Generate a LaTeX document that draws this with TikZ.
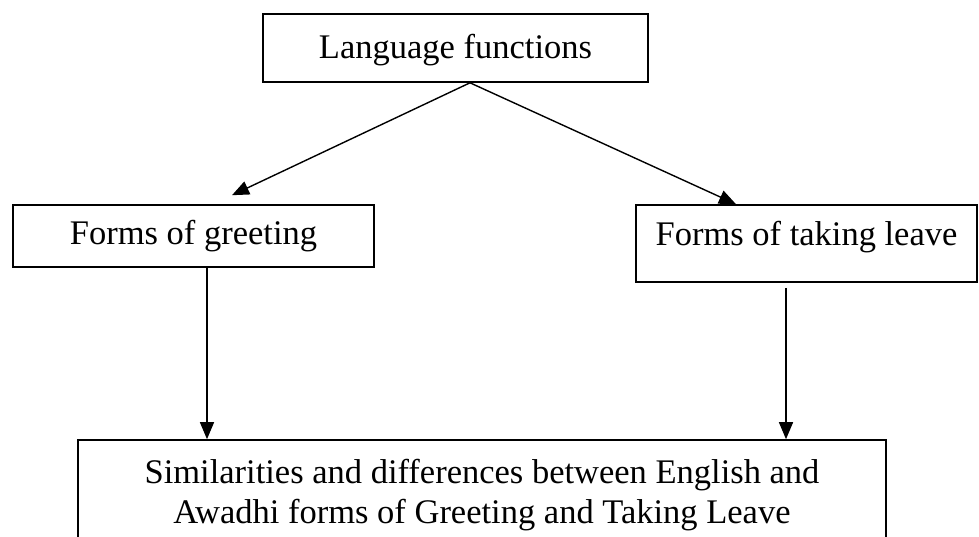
\documentclass[tikz,border=0pt]{standalone}
\usepackage{fontspec}
\setmainfont{Liberation Serif}
\usepackage{tikz}
\usetikzlibrary{arrows.meta}
\newcommand{\boxfont}{\fontsize{34.5pt}{40pt}\selectfont}

\begin{document}
\begin{tikzpicture}[x=1pt,y=-1pt]
						\useasboundingbox (0,0) rectangle (979,537);
						\begin{scope}[every node/.style={rectangle,draw,line width=1.6pt,inner sep=0pt,align=center,font=\boxfont}]
								\node[minimum width=385pt,minimum height=68pt,text depth=3pt] (LF) at (455.5,48) {Language functions};
								\node[minimum width=361pt,minimum height=62pt] (FG) at (193.5,236) {Forms of greeting};
								\node[minimum width=341pt,minimum height=77pt,text depth=20.6pt] (FT) at (806.5,243.5) {Forms of taking leave};
								\node[minimum width=808pt,minimum height=110pt] (SD) at (482,495) {Similarities and differences between English and\\Awadhi forms of Greeting and Taking Leave};
						\end{scope}
						\begin{scope}[>={Triangle[length=17pt,width=14pt]},
								every edge/.style={draw,->,line width=1.4pt}]
								\path ([xshift=14.5pt]LF.south) edge ([xshift=38.5pt,yshift=9pt]FG.north);
								\path ([xshift=14.5pt]LF.south) edge ([xshift=-70.5pt]FT.north);
								\path ([xshift=13.5pt]FG.south) edge ([xshift=13.5pt]FG.south |- SD.north);
								\path ([xshift=-20.5pt,yshift=-5pt]FT.south) edge ([xshift=-20.5pt]FT.south |- SD.north);
						\end{scope}
				\end{tikzpicture}
\end{document}
